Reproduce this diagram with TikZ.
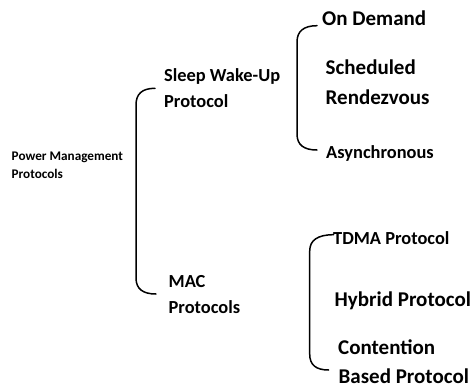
\documentclass[tikz,border=0pt]{standalone}
\usepackage{fontspec}
\setmainfont{Carlito}
\begin{document}
\begin{tikzpicture}[x=1pt,y=-1pt,
  lbl/.style={anchor=base west,inner sep=0pt,font=\bfseries},
  fs13/.style={font=\bfseries\fontsize{13.2}{15}\selectfont},
  fsm/.style={font=\bfseries\fontsize{18.4}{22}\selectfont},
  fsl/.style={font=\bfseries\fontsize{21}{25}\selectfont},
  brk/.style={draw=black,line width=1.5pt,line cap=round}]
\useasboundingbox (0,0) rectangle (474,388);
% texts
\node[lbl,fs13] (pm1) at (11.5,160) {Power Management};
\node[lbl,fs13] (pm2) at (11.5,178.3) {Protocols};
\node[lbl,fsm] (sw1) at (164,81.5) {Sleep Wake-Up};
\node[lbl,fsm] (sw2) at (164,107.3) {Protocol};
\node[lbl,fsl] (od) at (322,25) {On Demand};
\node[lbl,fsl] (sr1) at (325.5,74) {Scheduled};
\node[lbl,fsl] (sr2) at (325.5,104) {Rendezvous};
\node[lbl,fsm] (as) at (326,158.3) {Asynchronous};
\node[lbl,fsm] (mac1) at (168.5,287.3) {MAC};
\node[lbl,fsm] (mac2) at (168.5,313) {Protocols};
\node[lbl,fsm] (tdma) at (333,244) {TDMA Protocol};
\node[lbl,fsl] (hyb) at (334.5,306.7) {Hybrid Protocol};
\node[lbl,fsl] (cb1) at (338,354) {Contention};
\node[lbl,fsl] (cb2) at (338.5,383.3) {Based Protocol};
% bracket end points
\coordinate (lt) at (155,88.3);
\coordinate (lb) at (156,294);
\coordinate (ut) at (317,25.7);
\coordinate (ub) at (317,150);
\coordinate (bt) at (333.7,234.7);
\coordinate (bb) at (328.7,370);
% brackets
\draw[brk] (lt) .. controls (142,88.3) and (136,94) .. (136,105)
  -- (136,278) .. controls (136,289) and (143,294) .. (lb);
\draw[brk] (ut) .. controls (304,25.7) and (297,31) .. (297,42)
  -- (297,134) .. controls (297,145) and (304,150) .. (ub);
\draw[brk] (bt) .. controls (318,234.7) and (309.7,240) .. (309.7,251)
  -- (309.7,354) .. controls (309.7,365) and (316,370) .. (bb);
\end{tikzpicture}
\end{document}
